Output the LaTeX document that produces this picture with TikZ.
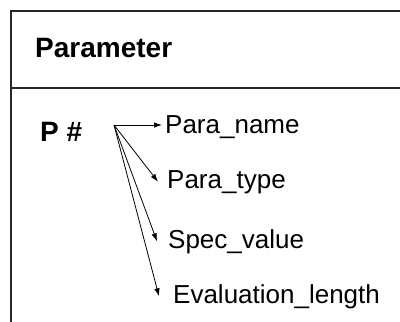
\documentclass[tikz,border=0pt]{standalone}
\usepackage{fontspec}
\setmainfont{Liberation Sans}
\usetikzlibrary{arrows.meta}

\begin{document}
\begin{tikzpicture}[x=1pt,y=-1pt,line join=miter,>={Latex[length=8pt,width=5.5pt]},
  every node/.style={inner sep=0pt,anchor=base west},
  frame/.style={line width=1.6pt,draw=black!85},
  arr/.style={->,line width=0.8pt},
  hdr/.style={font=\fontsize{28}{32}\selectfont\bfseries},
  item/.style={font=\fontsize{26}{30}\selectfont}]
  \useasboundingbox (0,0) rectangle (400,322);
  % table frame, open at the right and bottom
  \draw[frame] (11,322) -- (11,11) -- (400,11);
  \draw[frame] (11,88) -- (400,88);
  \node[hdr] (ttl) at (35,57) {Parameter};
  \node[hdr] (pnum) at (40,141) {P \#};
  \coordinate (src) at (114,125);
  \node[item] (pname) at (165,133) {Para\_name};
  \node[item] (ptype) at (167,188) {Para\_type};
  \node[item] (spec) at (168,248) {Spec\_value};
  \node[item] (evl) at (173,303) {Evaluation\_length};
  \draw[arr] (src) -- ([xshift=-3pt]pname.west |- src);
  \draw[arr] (src) -- ([xshift=-9pt]ptype.west);
  \draw[arr] (src) -- ([xshift=-11pt]spec.west);
  \draw[arr] (src) -- ([xshift=-14pt]evl.west);
\end{tikzpicture}
\end{document}
